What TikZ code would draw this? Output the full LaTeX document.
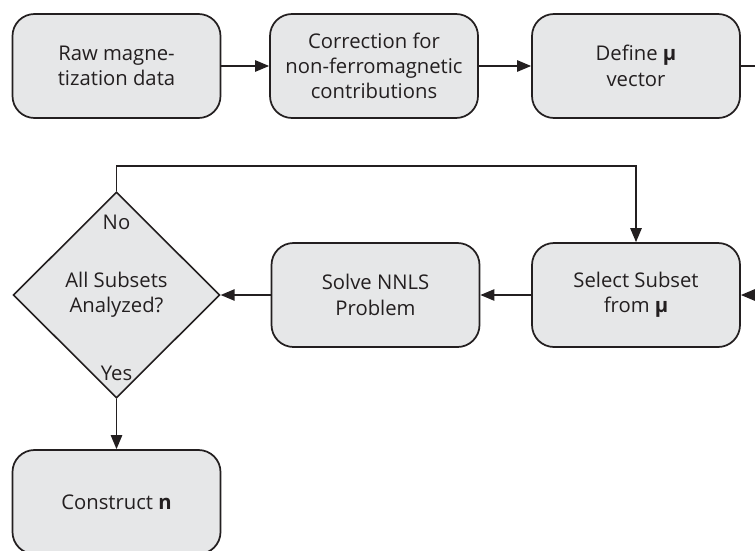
\documentclass[tikz,border=0pt]{standalone}
\usepackage{fontspec}
\setmainfont{Open Sans}
\usetikzlibrary{shapes.geometric,arrows.meta}
\definecolor{boxgray}{RGB}{230,231,232}
\definecolor{inkgray}{RGB}{35,31,32}
\tikzset{
  stepbox/.style={draw=inkgray, fill=boxgray, line width=1.3pt, rounded corners=16.5pt,
    minimum width=156pt, minimum height=78pt, align=center, text=inkgray,
    font=\fontsize{15.2pt}{19pt}\selectfont},
  choicebox/.style={draw=inkgray, fill=boxgray, line width=1.2pt, shape=diamond, inner sep=0pt,
    minimum width=155pt, minimum height=154.5pt, align=center, text=inkgray,
    font=\fontsize{15.2pt}{19pt}\selectfont},
  tag/.style={text=inkgray, inner sep=0.75pt, font=\fontsize{15.2pt}{17pt}\selectfont},
  flow/.style={draw=inkgray, line width=1.2pt},
  flowarrow/.style={flow, -{Triangle[length=10.5pt,width=8.5pt]}}
}
\begin{document}
\begin{tikzpicture}[x=0.75pt,y=0.75pt,yscale=-1,xscale=1]
\useasboundingbox (0,0) rectangle (755,550);
\clip (0,0) rectangle (755,550);

% first row
\node[stepbox] (raw) at (116.5,66) {Raw magne-\\tization data};
\node[stepbox] (corr) at (374,66) {Correction for\\non-ferromagnetic\\contributions};
\node[stepbox] (define) at (636,66) {Define \textbf{μ}\\vector};

% second row
\node[stepbox] (select) at (636,295) {Select Subset\\from \textbf{μ}};
\node[stepbox] (solve) at (375.5,295) {Solve NNLS\\Problem};
\node[choicebox] (decide) at (116.5,295) {All Subsets\\Analyzed?};
\node[tag] (no) at (116.5,222) {No};
\node[tag] (yes) at (116.5,373) {Yes};

% last step
\node[stepbox] (construct) at (116.5,502) {Construct \textbf{n}};

% free ends at the right edge
\coordinate (outR) at (755,66);
\coordinate (inR) at (755,295);
\coordinate (looptop) at (376,166);

% connectors
\draw[flowarrow] (raw) -- (corr);
\draw[flowarrow] (corr) -- (define);
\draw[flow] (define) -- (outR);
\draw[flowarrow] (inR) -- (select);
\draw[flowarrow] (select) -- (solve);
\draw[flowarrow] (solve) -- (decide);
\draw[flowarrow] (decide.north) |- (looptop) -| (select.north);
\draw[flowarrow] (decide.south) -- (construct.north);
\end{tikzpicture}
\end{document}
